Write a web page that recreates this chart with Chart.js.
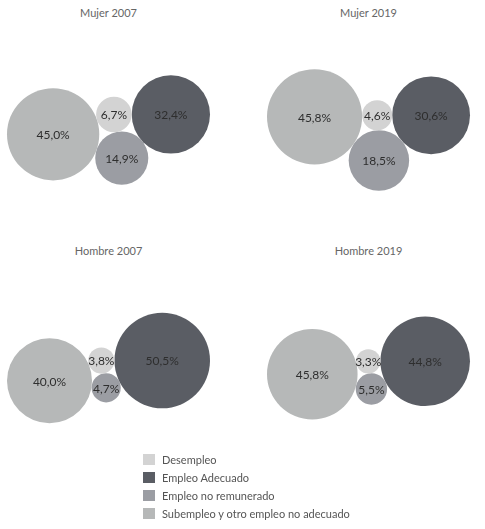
<!DOCTYPE html>
<html>
<head>
<meta charset="utf-8">
<script src="https://cdn.jsdelivr.net/npm/chart.js@4"></script>
<style>
  body { margin: 0; background: #fff; font-family: Lato, sans-serif; }
  #wrap { position: relative; width: 485px; height: 529px; }
  .panel { position: absolute; width: 215px; height: 200px; }
  .title { position: absolute; width: 215px; text-align: center; font-size: 11px; color: #666; line-height: 14px; }
  #legend { position: absolute; left: 143px; top: 450px; font-size: 11px; color: #555; }
  .item { height: 18px; display: flex; align-items: center; }
  .sw { width: 12px; height: 11px; margin-right: 7px; }
</style>
</head>
<body>
<div id="wrap"></div>
<script>
const categories = ['Desempleo', 'Empleo Adecuado', 'Empleo no remunerado', 'Subempleo y otro empleo no adecuado'];
const colors = ['#d3d3d3', '#5a5d64', '#9b9da3', '#b6b8b8'];
const panelTitles = ['Mujer 2007', 'Mujer 2019', 'Hombre 2007', 'Hombre 2019'];
const mujer2007 = [6.7, 32.4, 14.9, 45.0];
const mujer2019 = [4.6, 30.6, 18.5, 45.8];
const hombre2007 = [3.8, 50.5, 4.7, 40.0];
const hombre2019 = [3.3, 44.8, 5.5, 45.8];
const series = [mujer2007, mujer2019, hombre2007, hombre2019];

const groupWidth = 203;

// circle of radius r touching both given circles (on the +perp side)
function touch(p1, r1, p2, r2, r) {
  const dx = p2.x - p1.x, dy = p2.y - p1.y;
  const d = Math.hypot(dx, dy);
  const d1 = r1 + r, d2 = r2 + r;
  const a = (d1 * d1 - d2 * d2 + d * d) / (2 * d);
  const h = Math.sqrt(Math.max(0, d1 * d1 - a * a));
  const ux = dx / d, uy = dy / d;
  return { x: p1.x + a * ux - h * uy, y: p1.y + a * uy + h * ux };
}

// packs the 4 circles: desempleo in the middle, adecuado right,
// no remunerado below, subempleo left; scaled to the group width
function pack(vals) {
  const r = vals.map(v => Math.sqrt(v));
  const d = { x: 0, y: 0 };
  const a = { x: r[0] + r[1], y: 0 };
  const n = touch(d, r[0], a, r[1], r[2]);
  const s = touch(d, r[0], n, r[2], r[3]);
  const pts = [d, a, n, s];
  let x0 = Infinity, x1 = -Infinity, y0 = Infinity, y1 = -Infinity;
  pts.forEach((p, i) => {
    x0 = Math.min(x0, p.x - r[i]); x1 = Math.max(x1, p.x + r[i]);
    y0 = Math.min(y0, p.y - r[i]); y1 = Math.max(y1, p.y + r[i]);
  });
  const k = groupWidth / (x1 - x0);
  const cx = (x0 + x1) / 2, cy = (y0 + y1) / 2;
  return pts.map((p, i) => ({ x: (p.x - cx) * k, y: (p.y - cy) * k, r: r[i] * k }));
}

const labelPlugin = {
  id: 'bubbleLabels',
  afterDatasetsDraw(chart) {
    const ctx = chart.ctx;
    ctx.save();
    ctx.font = '12px Lato';
    ctx.fillStyle = '#2e2e2e';
    ctx.textAlign = 'center';
    ctx.textBaseline = 'middle';
    chart.data.datasets.forEach((ds, i) => {
      chart.getDatasetMeta(i).data.forEach(el => {
        ctx.fillText(ds.label, el.x, el.y + 1);
      });
    });
    ctx.restore();
  }
};

const wrap = document.getElementById('wrap');
const lefts = [1, 261];
const tops = [30, 268];

series.forEach((vals, p) => {
  const left = lefts[p % 2], top = tops[Math.floor(p / 2)];
  const title = document.createElement('div');
  title.className = 'title';
  title.style.left = left + 'px';
  title.style.top = (top - 24) + 'px';
  title.textContent = panelTitles[p];
  wrap.appendChild(title);

  const div = document.createElement('div');
  div.className = 'panel';
  div.style.left = left + 'px';
  div.style.top = top + 'px';
  const canvas = document.createElement('canvas');
  canvas.width = 215; canvas.height = 200;
  div.appendChild(canvas);
  wrap.appendChild(div);

  const pts = pack(vals);
  new Chart(canvas, {
    type: 'bubble',
    data: {
      datasets: categories.map((c, i) => ({
        label: vals[i].toFixed(1).replace('.', ',') + '%',
        data: [pts[i]],
        backgroundColor: colors[i],
        borderWidth: 0,
        hoverBorderWidth: 0,
        clip: false
      }))
    },
    options: {
      responsive: false,
      animation: false,
      layout: { padding: 0, autoPadding: false },
      plugins: { legend: { display: false }, tooltip: { enabled: false } },
      scales: {
        x: { display: false, min: -107.5, max: 107.5 },
        y: { display: false, min: -100, max: 100, reverse: true }
      }
    },
    plugins: [labelPlugin]
  });
});

const legend = document.createElement('div');
legend.id = 'legend';
categories.forEach((c, i) => {
  const item = document.createElement('div');
  item.className = 'item';
  const sw = document.createElement('span');
  sw.className = 'sw';
  sw.style.background = colors[i];
  const t = document.createElement('span');
  t.textContent = c;
  item.appendChild(sw);
  item.appendChild(t);
  legend.appendChild(item);
});
wrap.appendChild(legend);
</script>
</body>
</html>
